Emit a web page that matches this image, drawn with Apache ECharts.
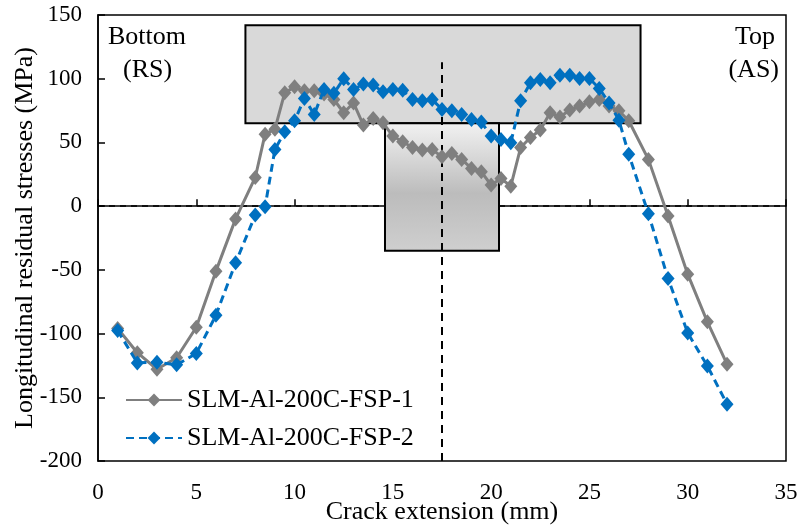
<!DOCTYPE html>
<html>
<head>
<meta charset="utf-8">
<script src="https://cdn.jsdelivr.net/npm/echarts@6/dist/echarts.min.js"></script>
<style>
  html, body { margin: 0; padding: 0; background: #fff; }
  #chart { width: 800px; height: 529px; }
</style>
</head>
<body>
<div id="chart"></div>
<script>
// crack extension (mm), same positions for both specimens
var crack_x = [1, 2, 3, 4, 5, 6, 7, 8, 8.5, 9, 9.5, 10, 10.5, 11, 11.5, 12, 12.5, 13,
    13.5, 14, 14.5, 15, 15.5, 16, 16.5, 17, 17.5, 18, 18.5, 19, 19.5, 20, 20.5, 21,
    21.5, 22, 22.5, 23, 23.5, 24, 24.5, 25, 25.5, 26, 26.5, 27, 28, 29, 30, 31, 32];

var fsp1 = [-96, -115, -128, -119, -95, -51, -10, 22.5, 56.5, 60.4, 89, 93.6, 90.5, 90.5, 88, 83.7, 73.3, 81,
    63.6, 68.8, 65.4, 55, 50.5, 46, 44, 44.5, 38.7, 41.4, 36.7, 29.6, 27, 16.5, 21.7, 15.7,
    46, 53.9, 59.7, 73.3, 70, 75.4, 78.5, 81.9, 83.7, 78.5, 74.8, 67, 36.7, -7.8, -53.4, -90.8, -124];

var fsp2 = [-97.6, -123, -122.5, -124.5, -115.6, -85.6, -44.5, -7, -0.5, 44.5, 58.3, 67, 84.5, 72, 91.6, 88.5, 100, 91.6,
    95.8, 95, 89.7, 91.6, 91, 83.7, 82.7, 83.7, 75.9, 74.8, 72, 68, 66, 55, 52.3, 49.7,
    82.7, 96.8, 99.4, 96.8, 102.8, 102.8, 100.2, 100.2, 92.4, 81, 67.5, 40.8, -6, -56.8, -99.5, -125.4, -155.4];

var series_names = ['SLM-Al-200C-FSP-1', 'SLM-Al-200C-FSP-2'];

// FSP zone sketch (T shape), in data units
var top_box = [7.5, 142, 27.6, 65];
var stem_box = [14.6, 65, 20.4, -35];
var centerline_x = 17.5;

function pairs(xs, ys) {
    return xs.map(function (x, i) { return [x, ys[i]] })
}

var font = '"Liberation Serif", "Times New Roman", serif';

chart = echarts.init(document.getElementById("chart"));

var option = {
    animation: false,
    backgroundColor: '#fff',
    textStyle: { fontFamily: font },
    grid: {
        left: 98, right: 14, top: 15, bottom: 68,
        outerBoundsMode: 'none',
        containLabel: false,
        show: true, borderColor: '#000', borderWidth: 1.5
    },
    xAxis: {
        type: 'value',
        min: 0, max: 35, interval: 5,
        name: 'Crack extension (mm)',
        nameLocation: 'middle',
        nameGap: 38,
        nameMoveOverlap: false,
        nameTextStyle: { fontFamily: font, fontSize: 26, color: '#000' },
        axisLine: { lineStyle: { color: '#000', width: 1.5 } },
        axisTick: { inside: true, length: 7, lineStyle: { color: '#000', width: 1.5 } },
        axisLabel: { fontFamily: font, fontSize: 23, color: '#000', margin: 20 },
        splitLine: { show: false }
    },
    yAxis: {
        type: 'value',
        min: -200, max: 150, interval: 50,
        name: 'Longitudinal residual stresses (MPa)',
        nameLocation: 'middle',
        nameGap: 60,
        nameMoveOverlap: false,
        nameTextStyle: { fontFamily: font, fontSize: 26, color: '#000' },
        axisLine: { lineStyle: { color: '#000', width: 1.5 } },
        axisTick: { inside: true, length: 7, lineStyle: { color: '#000', width: 1.5 } },
        axisLabel: { fontFamily: font, fontSize: 23, color: '#000', margin: 16 },
        splitLine: { show: false }
    },
    legend: {
        orient: 'vertical',
        left: 120, top: 382,
        itemWidth: 56, itemHeight: 16,
        itemGap: 12,
        textStyle: { fontFamily: font, fontSize: 26, color: '#000' },
        data: series_names
    },
    graphic: [
        { type: 'text', x: 108, y: 37, style: { text: 'Bottom', font: '26px ' + font, fill: '#000', align: 'left', verticalAlign: 'middle' } },
        { type: 'text', x: 123, y: 70, style: { text: '(RS)', font: '26px ' + font, fill: '#000', align: 'left', verticalAlign: 'middle' } },
        { type: 'text', x: 775, y: 37, style: { text: 'Top', font: '26px ' + font, fill: '#000', align: 'right', verticalAlign: 'middle' } },
        { type: 'text', x: 779, y: 70, style: { text: '(AS)', font: '26px ' + font, fill: '#000', align: 'right', verticalAlign: 'middle' } },
        { type: 'text', x: 442, y: 45, style: { text: 'FSP centerline', font: '24px ' + font, fill: '#000', align: 'center', verticalAlign: 'middle' } }
    ],
    series: [
        {
            // zero line, broken where the stem of the sketch sits
            type: 'line', data: [], z: 1, silent: true,
            markLine: {
                symbol: 'none', silent: true, label: { show: false },
                lineStyle: { color: '#000', type: [6, 5], width: 1.5 },
                data: [
                    [{ coord: [0, 0] }, { coord: [stem_box[0], 0] }],
                    [{ coord: [stem_box[2], 0] }, { coord: [35, 0] }]
                ]
            }
        },
        {
            type: 'line', data: [], z: 2, silent: true,
            markArea: {
                silent: true,
                data: [
                    [{ coord: [top_box[0], top_box[1]], itemStyle: { color: '#d9d9d9', borderColor: '#000', borderWidth: 2 } },
                     { coord: [top_box[2], top_box[3]] }],
                    [{ coord: [stem_box[0], stem_box[1]], itemStyle: {
                        color: new echarts.graphic.LinearGradient(0, 0, 0, 1, [
                            { offset: 0, color: '#f2f2f2' },
                            { offset: 0.55, color: '#bcbcbc' },
                            { offset: 1, color: '#cfcfcf' }
                        ]), borderColor: '#000', borderWidth: 2 } },
                     { coord: [stem_box[2], stem_box[3]] }]
                ]
            }
        },
        {
            type: 'line', data: [], z: 3, silent: true,
            markLine: {
                symbol: 'none', silent: true, label: { show: false },
                lineStyle: { color: '#000', type: [8, 6], width: 2 },
                data: [[{ coord: [centerline_x, -200] }, { coord: [centerline_x, 113] }]]
            }
        },
        {
            name: series_names[0],
            type: 'line', z: 5,
            data: pairs(crack_x, fsp1),
            symbol: 'diamond', symbolSize: [13, 15],
            itemStyle: { color: '#7f7f7f' },
            lineStyle: { color: '#7f7f7f', width: 3 }
        },
        {
            name: series_names[1],
            type: 'line', z: 6,
            data: pairs(crack_x, fsp2),
            symbol: 'diamond', symbolSize: [13, 15],
            itemStyle: { color: '#0070c0' },
            lineStyle: { color: '#0070c0', width: 3, type: [8, 5] }
        }
    ]
};

chart.setOption(option);
</script>
</body>
</html>
